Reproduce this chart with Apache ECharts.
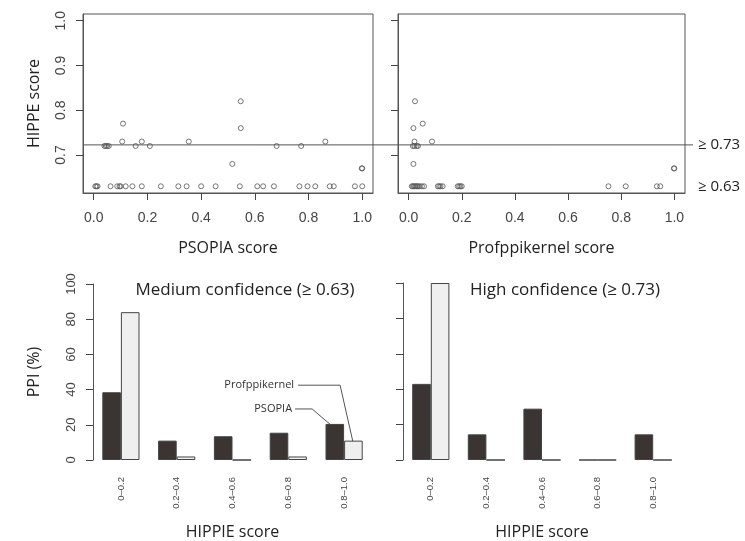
<!DOCTYPE html>
<html lang="en">
<head>
    <meta charset="UTF-8">
    <title>HIPPIE score comparison</title>
    <style>
        * {
            margin: 0;
            padding: 0;
        }

        body {
            background: #fff;
        }

        .main {
            width: 745px;
            height: 541px;
        }
    </style>
</head>
<body>
<div id="main" class="main"></div>
<script src="https://cdn.jsdelivr.net/npm/echarts@6.0.0/dist/echarts.min.js"></script>
<script>
    // scatter: predictor score vs HIPPIE score
    var psopiaScore = [0.006, 0.010, 0.014, 0.0625, 0.0875, 0.096, 0.100, 0.119, 0.144, 0.179, 0.250, 0.315, 0.346,
        0.400, 0.454, 0.544, 0.609, 0.631, 0.671, 0.766, 0.796, 0.825, 0.879, 0.894, 0.9725, 1.000,
        0.040, 0.045, 0.050, 0.056, 0.109, 0.106, 0.156, 0.179, 0.209, 0.354, 0.516, 0.5475, 0.5475,
        0.681, 0.7725, 0.8625, 0.998, 1.000];
    var psopiaHippie = [0.63, 0.63, 0.63, 0.63, 0.63, 0.63, 0.63, 0.63, 0.63, 0.63, 0.63, 0.63, 0.63,
        0.63, 0.63, 0.63, 0.63, 0.63, 0.63, 0.63, 0.63, 0.63, 0.63, 0.63, 0.63, 0.63,
        0.72, 0.72, 0.72, 0.72, 0.77, 0.73, 0.72, 0.73, 0.72, 0.73, 0.68, 0.82, 0.76,
        0.72, 0.72, 0.73, 0.67, 0.67];

    var profScore = [0.012, 0.016, 0.020, 0.024, 0.028, 0.032, 0.036, 0.042, 0.050, 0.058, 0.110, 0.115, 0.120,
        0.128, 0.185, 0.190, 0.195, 0.200, 0.752, 0.817, 0.934, 0.947,
        0.024, 0.018, 0.053, 0.088, 0.022, 0.016, 0.022, 0.030, 0.035, 0.018, 0.998, 1.000];
    var profHippie = [0.63, 0.63, 0.63, 0.63, 0.63, 0.63, 0.63, 0.63, 0.63, 0.63, 0.63, 0.63, 0.63,
        0.63, 0.63, 0.63, 0.63, 0.63, 0.63, 0.63, 0.63, 0.63,
        0.82, 0.76, 0.77, 0.73, 0.73, 0.72, 0.72, 0.72, 0.72, 0.68, 0.67, 0.67];

    var scoreTicks = [0, 0.2, 0.4, 0.6, 0.8, 1.0];
    var hippieTicks = [0.7, 0.8, 0.9, 1.0];
    var cutoffLine = 0.7225;

    // bars: % of PPI per HIPPIE bin
    var binLabels = ['0\u20130.2', '0.2\u20130.4', '0.4\u20130.6', '0.6\u20130.8', '0.8\u20131.0'];
    var mediumPsopia = [38.5, 11, 13.5, 15.5, 20.5];
    var mediumProf = [84, 2, 0, 2, 11];
    var highPsopia = [43, 14.5, 29, 0, 14.5];
    var highProf = [100, 0, 0, 0, 0];

    var axisColor = '#555';
    var tickColor = '#444';
    var labelFont = 'Liberation Sans';
    var titleFont = 'Open Sans';

    function zip(xs, ys) {
        return xs.map(function (x, i) {
            return [x, ys[i]];
        });
    }

    function scatterX(idx, name) {
        return {
            gridIndex: idx, type: 'value', min: -0.04, max: 1.04,
            name: name, nameLocation: 'middle', nameGap: 47,
            nameTextStyle: {fontFamily: titleFont, fontSize: 16, color: '#222'},
            axisLine: {show: true, onZero: false, lineStyle: {color: axisColor}},
            axisTick: {show: true, length: 7, lineStyle: {color: tickColor}, customValues: scoreTicks},
            axisLabel: {
                fontFamily: labelFont, fontSize: 14, color: '#444', margin: 18,
                customValues: scoreTicks,
                formatter: function (v) { return v.toFixed(1); }
            },
            splitLine: {show: false}
        };
    }

    function scatterY(idx, withLabels) {
        return {
            gridIndex: idx, type: 'value', min: 0.615, max: 1.015,
            name: withLabels ? 'HIPPE score' : '', nameLocation: 'middle', nameGap: 41, nameRotate: 90,
            nameTextStyle: {fontFamily: titleFont, fontSize: 16, color: '#222'},
            axisLine: {show: true, onZero: false, lineStyle: {color: axisColor}},
            axisTick: {show: true, length: 7, lineStyle: {color: tickColor}, customValues: hippieTicks},
            axisLabel: {
                show: withLabels, rotate: 90, fontFamily: labelFont, fontSize: 14, color: '#444', margin: 15,
                customValues: hippieTicks,
                formatter: function (v) { return v.toFixed(1); }
            },
            splitLine: {show: false}
        };
    }

    function barX(idx) {
        return {
            gridIndex: idx, type: 'category', data: binLabels,
            name: 'HIPPIE score', nameLocation: 'middle', nameGap: 64,
            nameTextStyle: {fontFamily: titleFont, fontSize: 16, color: '#222'},
            axisLine: {show: false},
            axisTick: {show: false},
            axisLabel: {rotate: 90, fontFamily: labelFont, fontSize: 9.5, color: '#444', margin: 17, interval: 0}
        };
    }

    function barY(idx, withLabels) {
        return {
            gridIndex: idx, type: 'value', min: 0, max: 100, interval: 20,
            name: withLabels ? 'PPI (%)' : '', nameLocation: 'middle', nameGap: 51, nameRotate: 90,
            nameTextStyle: {fontFamily: titleFont, fontSize: 16, color: '#222'},
            axisLine: {show: true, onZero: false, lineStyle: {color: axisColor}},
            axisTick: {show: true, length: 7, lineStyle: {color: tickColor}},
            axisLabel: {
                show: withLabels, rotate: 90, fontFamily: labelFont, fontSize: 13, color: '#444', margin: 15
            },
            splitLine: {show: false}
        };
    }

    function bars(idx, data, fill) {
        return {
            type: 'bar', xAxisIndex: idx, yAxisIndex: idx, data: data,
            barWidth: 18.6, barGap: '0%',
            itemStyle: {color: fill, borderColor: '#444', borderWidth: 1},
            silent: true
        };
    }

    var pointStyle = {color: 'rgba(0,0,0,0)', borderColor: '#555', borderWidth: 1};

    var myChart = echarts.init(document.getElementById('main'), null, {renderer: 'canvas'});

    myChart.setOption({
        animation: false,
        backgroundColor: '#fff',
        title: [
            {
                text: 'Medium confidence (\u2265 0.63)', left: 240, top: 277, textAlign: 'center',
                textStyle: {fontFamily: titleFont, fontSize: 17, fontWeight: 'normal', color: '#222'}
            },
            {
                text: 'High confidence (\u2265 0.73)', left: 560, top: 277, textAlign: 'center',
                textStyle: {fontFamily: titleFont, fontSize: 17, fontWeight: 'normal', color: '#222'}
            }
        ],
        grid: [
            {left: 83, top: 14, width: 290, height: 179, show: true, borderColor: axisColor, borderWidth: 1},
            {left: 398, top: 14, width: 287, height: 179, show: true, borderColor: axisColor, borderWidth: 1},
            {left: 93, top: 284, width: 279, height: 179},
            {left: 403, top: 283, width: 278, height: 178}
        ],
        xAxis: [scatterX(0, 'PSOPIA score'), scatterX(1, 'Profppikernel score'), barX(2), barX(3)],
        yAxis: [scatterY(0, true), scatterY(1, false), barY(2, true), barY(3, false)],
        series: [
            {
                type: 'scatter', xAxisIndex: 0, yAxisIndex: 0, data: zip(psopiaScore, psopiaHippie),
                symbol: 'circle', symbolSize: 5, itemStyle: pointStyle, silent: true
            },
            {
                type: 'scatter', xAxisIndex: 1, yAxisIndex: 1, data: zip(profScore, profHippie),
                symbol: 'circle', symbolSize: 5, itemStyle: pointStyle, silent: true
            },
            bars(2, mediumPsopia, '#3a3433'),
            bars(2, mediumProf, '#efefef'),
            bars(3, highPsopia, '#3a3433'),
            bars(3, highProf, '#efefef')
        ]
    });

    // threshold line, cutoff labels and leader lines
    var lineLeft = myChart.convertToPixel({gridIndex: 0}, [-0.04, cutoffLine]);
    var lineRight = myChart.convertToPixel({gridIndex: 1}, [1.04, cutoffLine]);
    var low = myChart.convertToPixel({gridIndex: 1}, [1.04, 0.63]);
    var lastBin = myChart.convertToPixel({gridIndex: 2}, [binLabels[4], 0]);
    var psopiaTop = myChart.convertToPixel({gridIndex: 2}, [binLabels[4], mediumPsopia[4]]);
    var profTop = myChart.convertToPixel({gridIndex: 2}, [binLabels[4], mediumProf[4]]);
    var profTextY = myChart.convertToPixel({gridIndex: 2}, [binLabels[4], 42.5])[1];
    var psopiaTextY = myChart.convertToPixel({gridIndex: 2}, [binLabels[4], 29])[1];
    var cx = lastBin[0];
    var leader = {stroke: '#555', lineWidth: 1, fill: null};
    var noteFont = {fontFamily: titleFont, fontSize: 11, fill: '#333', align: 'right', verticalAlign: 'middle'};

    myChart.setOption({
        graphic: [
            {
                type: 'line', silent: true,
                shape: {x1: lineLeft[0], y1: lineLeft[1], x2: lineRight[0] + 8, y2: lineLeft[1]},
                style: {stroke: '#555', lineWidth: 1}
            },
            {
                type: 'text', silent: true, x: lineRight[0] + 13, y: lineLeft[1],
                style: {text: '\u2265 0.73', fontFamily: titleFont, fontSize: 15, fill: '#222', verticalAlign: 'middle'}
            },
            {
                type: 'text', silent: true, x: lineRight[0] + 13, y: low[1],
                style: {text: '\u2265 0.63', fontFamily: titleFont, fontSize: 15, fill: '#222', verticalAlign: 'middle'}
            },
            {
                type: 'text', silent: true, x: cx - 50, y: profTextY,
                style: Object.assign({text: 'Profppikernel'}, noteFont)
            },
            {
                type: 'text', silent: true, x: cx - 52, y: psopiaTextY,
                style: Object.assign({text: 'PSOPIA'}, noteFont)
            },
            {
                type: 'polyline', silent: true,
                shape: {points: [[cx - 46, profTextY], [cx - 4, profTextY], [cx + 9, profTop[1] + 2]]},
                style: leader
            },
            {
                type: 'polyline', silent: true,
                shape: {points: [[cx - 49, psopiaTextY], [cx - 32, psopiaTextY], [cx - 11, psopiaTop[1] + 3]]},
                style: leader
            }
        ]
    });
</script>
</body>
</html>
